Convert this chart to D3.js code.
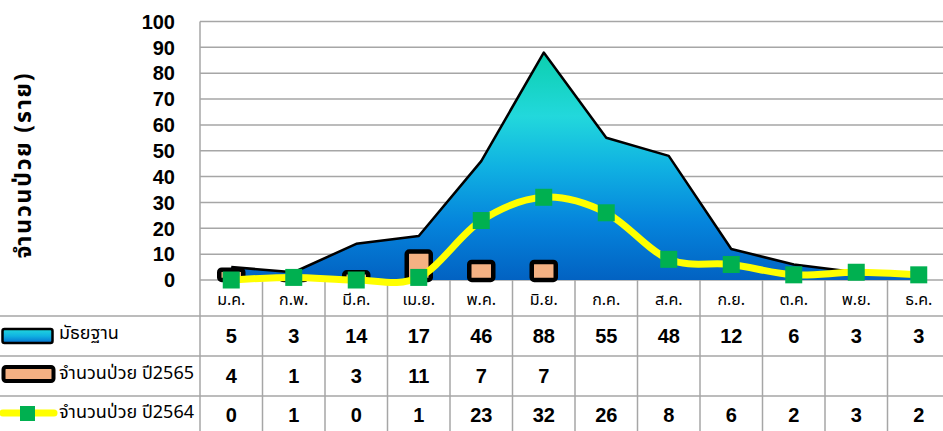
<!DOCTYPE html>
<html><head><meta charset="utf-8">
<script src="https://cdn.jsdelivr.net/npm/d3@7/dist/d3.min.js"></script>
<style>
body{margin:0;background:#fff;}
svg{display:block;}
</style></head>
<body><svg id="c" width="943" height="431"></svg>
<script>
const months = ["ม.ค.","ก.พ.","มี.ค.","เม.ย.","พ.ค.","มิ.ย.","ก.ค.","ส.ค.","ก.ย.","ต.ค.","พ.ย.","ธ.ค."];
const median = [5,3,14,17,46,88,55,48,12,6,3,3];
const cases2565 = [4,1,3,11,7,7,null,null,null,null,null,null];
const cases2564 = [0,1,0,1,23,32,26,8,6,2,3,2];
const yTicks = [0,10,20,30,40,50,60,70,80,90,100];
const seriesNames = ["มัธยฐาน","จำนวนป่วย ปี2565","จำนวนป่วย ปี2564"];
const yTitle = "จำนวนป่วย (ราย)";

const svg = d3.select("#c");
const thai = "Tahoma, 'Noto Sans Thai', 'Noto Sans', 'DejaVu Sans', sans-serif";
const num = "'Liberation Sans', Arial, sans-serif";
const grid = "#a6a6a6";

const x = d3.scaleBand().domain(months).range([200, 950]);
const y = d3.scaleLinear().domain([0, 100]).range([280, 21.5]);
const cx = (d,i) => x(months[i]) + x.bandwidth()/2;

// gradient
const defs = svg.append("defs");
const g1 = defs.append("linearGradient").attr("id","areaGrad")
  .attr("gradientUnits","userSpaceOnUse").attr("x1",0).attr("x2",0)
  .attr("y1", y(88)).attr("y2", y(0));
[[0,"#0ccfae"],[0.28,"#22d8dc"],[0.5,"#10b2e2"],[0.75,"#0584dc"],[1,"#0262c2"]]
  .forEach(s => g1.append("stop").attr("offset", s[0]).attr("stop-color", s[1]));
const g2 = defs.append("linearGradient").attr("id","legGrad").attr("x1",0).attr("x2",0).attr("y1",0).attr("y2",1);
[[0,"#22d8dc"],[0.5,"#10b2e2"],[1,"#0570d0"]]
  .forEach(s => g2.append("stop").attr("offset", s[0]).attr("stop-color", s[1]));

// horizontal gridlines
svg.append("g").selectAll("line").data(yTicks).join("line")
  .attr("x1", 200).attr("x2", 943)
  .attr("y1", d => y(d)).attr("y2", d => y(d))
  .attr("stroke", grid).attr("stroke-width", 1.5);

// y tick labels
svg.append("g").selectAll("text").data(yTicks).join("text")
  .attr("x", 175).attr("y", d => y(d)).attr("dy", "0.36em")
  .attr("text-anchor", "end")
  .style("font-family", num).style("font-weight", "bold").style("font-size", "20px")
  .text(d => d);

// y title
svg.append("text")
  .attr("transform", "translate(31,166) rotate(-90)")
  .attr("text-anchor", "middle")
  .attr("textLength", 185).attr("lengthAdjust", "spacing")
  .style("font-family", thai).style("font-weight", "bold").style("font-size", "23px")
  .text(yTitle);

// table lines
const tbl = svg.append("g").attr("stroke", grid).attr("stroke-width", 1.5);
d3.range(13).forEach(k => {
  const xv = 200 + k * x.bandwidth();
  tbl.append("line").attr("x1", xv).attr("x2", xv)
    .attr("y1", k === 0 ? y(100) : 280).attr("y2", 431);
});
[316, 356, 396].forEach(yy => tbl.append("line").attr("x1", 0).attr("x2", 943).attr("y1", yy).attr("y2", yy));

// median area
const areaGen = d3.area().x(cx).y0(y(0)).y1(d => y(d));
svg.append("path").datum(median).attr("d", areaGen).attr("fill", "url(#areaGrad)");
svg.append("path").datum(median).attr("d", d3.line().x(cx).y(d => y(d)))
  .attr("fill", "none").attr("stroke", "#000").attr("stroke-width", 2.5).attr("stroke-linejoin","round");

// bars 2565
const bw = 24;
svg.append("g").selectAll("rect").data(cases2565.map((v,i)=>({v,i})).filter(d => d.v != null)).join("rect")
  .attr("x", d => cx(null, d.i) - bw/2).attr("width", bw)
  .attr("y", d => y(d.v)).attr("height", d => y(0) - y(d.v))
  .attr("rx", 2.5)
  .attr("fill", "#f4b183").attr("stroke", "#000").attr("stroke-width", 4.5);

// line 2564
svg.append("path").datum(cases2564)
  .attr("d", d3.line().x(cx).y(d => y(d)).curve(d3.curveCardinal.tension(0)))
  .attr("fill", "none").attr("stroke", "#ffff00").attr("stroke-width", 7).attr("stroke-linecap","round");
const ms = 17;
svg.append("g").selectAll("rect").data(cases2564).join("rect")
  .attr("x", (d,i) => cx(d,i) - ms/2).attr("y", d => y(d) - ms/2)
  .attr("width", ms).attr("height", ms).attr("fill", "#00b050");

// month labels
svg.append("g").selectAll("text").data(months).join("text")
  .attr("x", (d,i) => cx(d,i)).attr("y", 305)
  .attr("text-anchor", "middle")
  .style("font-family", thai).style("font-size", "16px")
  .text(d => d);

// table values
const rows = [median, cases2565, cases2564];
const rowY = [336, 376, 415];
rows.forEach((r, ri) => {
  svg.append("g").selectAll("text").data(r).join("text")
    .attr("x", (d,i) => cx(d,i)).attr("y", rowY[ri]).attr("dy","0.36em")
    .attr("text-anchor", "middle")
    .style("font-family", num).style("font-weight", "bold").style("font-size", "20px")
    .text(d => d == null ? "" : d);
});

// legend keys
svg.append("rect").attr("x", 2.5).attr("y", 329).attr("width", 50).attr("height", 14)
  .attr("rx", 2).attr("fill", "url(#legGrad)").attr("stroke", "#000").attr("stroke-width", 2.5);
svg.append("rect").attr("x", 3.5).attr("y", 367).attr("width", 50).attr("height", 14)
  .attr("rx", 2.5).attr("fill", "#f4b183").attr("stroke", "#000").attr("stroke-width", 4);
svg.append("line").attr("x1", 3).attr("x2", 54).attr("y1", 413).attr("y2", 413)
  .attr("stroke", "#ffff00").attr("stroke-width", 7).attr("stroke-linecap","round");
svg.append("rect").attr("x", 20).attr("y", 406).attr("width", 15).attr("height", 15).attr("fill", "#00b050");

const legY = [333, 373, 412];
svg.append("g").selectAll("text").data(seriesNames).join("text")
  .attr("x", 59).attr("y", (d,i) => legY[i]).attr("dy","0.36em")
  .style("font-family", thai).style("font-size", "18px")
  .text(d => d);
</script></body></html>
